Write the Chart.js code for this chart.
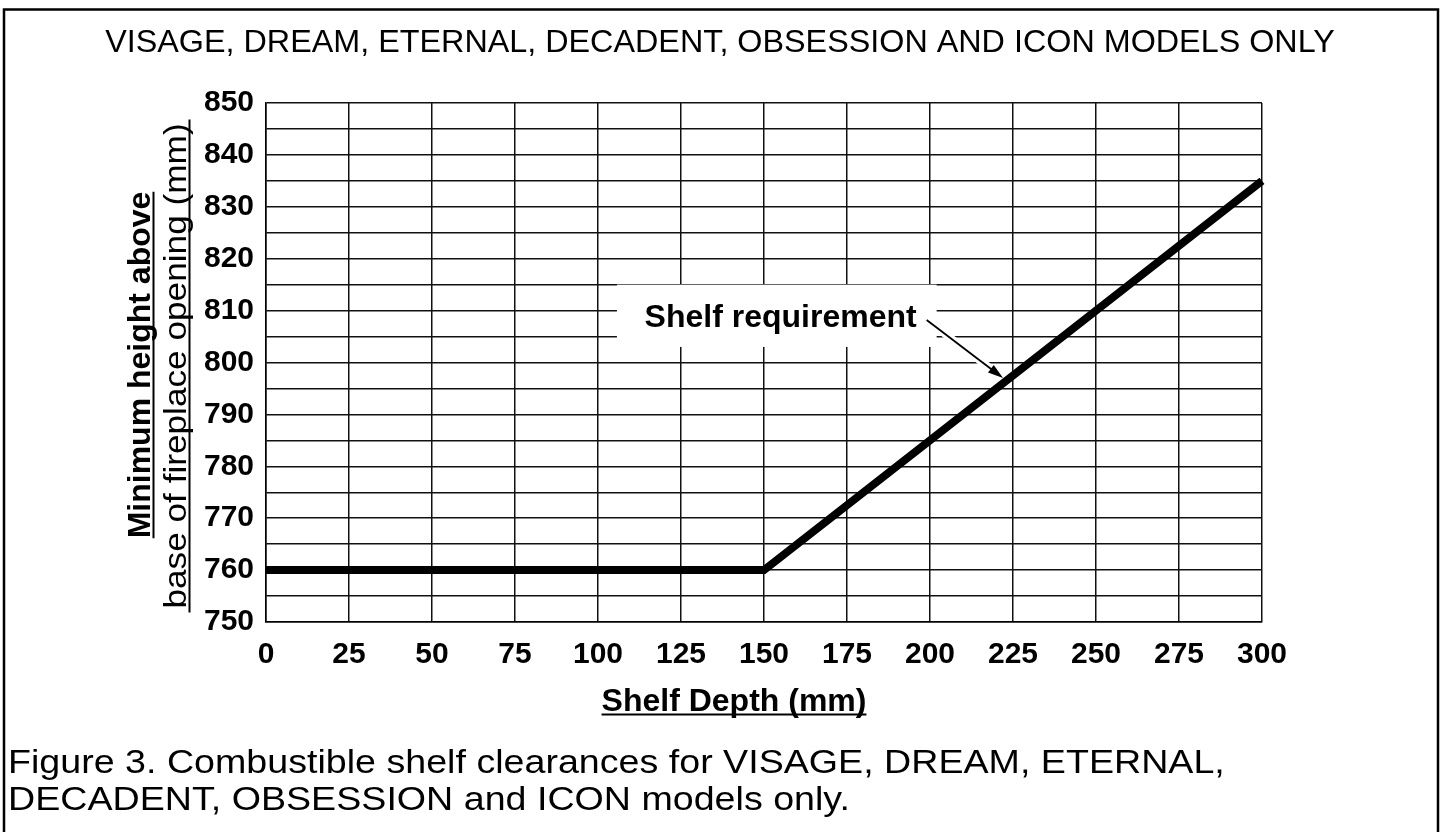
<!DOCTYPE html>
<html>
<head>
<meta charset="utf-8">
<title>Shelf clearances</title>
<script src="https://cdn.jsdelivr.net/npm/chart.js@4.4.1/dist/chart.umd.min.js"></script>
<style>
  html, body { margin: 0; padding: 0; background: #fff; }
  canvas { display: block; }
</style>
</head>
<body>
<canvas id="c" width="1447" height="832"></canvas>
<script>
const FONT = '"Liberation Sans", Arial, Helvetica, sans-serif';

// shelf depth (mm) -> minimum height above base of opening (mm)
const depth = [0, 150, 300];
const minHeight = [760, 760, 835];

const xTicks = [0, 25, 50, 75, 100, 125, 150, 175, 200, 225, 250, 275, 300];
const yTicks = [750, 760, 770, 780, 790, 800, 810, 820, 830, 840, 850];

const topTitle = "VISAGE, DREAM, ETERNAL, DECADENT, OBSESSION AND ICON MODELS ONLY";
const yTitle = ["Minimum height above", "base of fireplace opening (mm)"];
const xTitle = "Shelf Depth (mm)";
const caption = [
  "Figure 3. Combustible shelf clearances for VISAGE, DREAM, ETERNAL,",
  "DECADENT, OBSESSION and ICON models only."
];

// callout, in data units
const note = { text: "Shelf requirement", x: 155, y: 806.8, box: [105.7, 815, 202, 803], from: [199, 808.2], to: [222, 797] };

// text centred on (0,0) after the caller's transform; sx stretches along the text
function underlined(ctx, text, sx, extra) {
  const w = ctx.measureText(text).width * sx;
  ctx.save();
  ctx.scale(sx, 1);
  ctx.fillText(text, 0, 0);
  ctx.restore();
  const e = extra || 0;
  ctx.beginPath();
  ctx.moveTo(-w / 2 - e, 3.5);
  ctx.lineTo(w / 2 + e, 3.5);
  ctx.stroke();
}

const decor = {
  id: "decor",
  beforeDraw(chart) {
    const { ctx, width, height } = chart;
    ctx.save();
    ctx.fillStyle = "#fff";
    ctx.fillRect(0, 0, width, height);
    ctx.strokeStyle = "#000";
    ctx.lineWidth = 2.5;
    ctx.beginPath();
    ctx.moveTo(4, height + 5);
    ctx.lineTo(4, 9.5);
    ctx.lineTo(1438, 9.5);
    ctx.lineTo(1438, height + 5);
    ctx.stroke();
    ctx.restore();
  },
  beforeDatasetsDraw(chart) {
    const { ctx, scales: { x, y } } = chart;
    ctx.save();
    // white patch behind the label
    const bx0 = x.getPixelForValue(note.box[0]), by0 = y.getPixelForValue(note.box[1]);
    const bx1 = x.getPixelForValue(note.box[2]), by1 = y.getPixelForValue(note.box[3]);
    ctx.fillStyle = "#fff";
    ctx.fillRect(bx0, by0, bx1 - bx0, by1 - by0);
    ctx.fillStyle = "#000";
    ctx.font = "bold 32px " + FONT;
    ctx.textAlign = "center";
    ctx.textBaseline = "alphabetic";
    ctx.fillText(note.text, x.getPixelForValue(note.x), y.getPixelForValue(note.y));

    // arrow
    const x0 = x.getPixelForValue(note.from[0]), y0 = y.getPixelForValue(note.from[1]);
    const x1 = x.getPixelForValue(note.to[0]), y1 = y.getPixelForValue(note.to[1]);
    const a = Math.atan2(y1 - y0, x1 - x0);
    ctx.strokeStyle = "#fff";
    ctx.lineWidth = 8;
    ctx.beginPath(); ctx.moveTo(x0, y0); ctx.lineTo(x1, y1); ctx.stroke();
    ctx.strokeStyle = "#000";
    ctx.lineWidth = 1.8;
    ctx.beginPath(); ctx.moveTo(x0, y0); ctx.lineTo(x1 - 8 * Math.cos(a), y1 - 8 * Math.sin(a)); ctx.stroke();
    ctx.beginPath();
    ctx.moveTo(x1, y1);
    ctx.lineTo(x1 - 16 * Math.cos(a - 0.3), y1 - 16 * Math.sin(a - 0.3));
    ctx.lineTo(x1 - 16 * Math.cos(a + 0.3), y1 - 16 * Math.sin(a + 0.3));
    ctx.closePath();
    ctx.fill();
    ctx.restore();
  },
  afterDraw(chart) {
    const { ctx } = chart;
    ctx.save();
    ctx.fillStyle = "#000";
    ctx.strokeStyle = "#000";
    ctx.lineWidth = 2;
    ctx.textBaseline = "alphabetic";

    ctx.font = "32px " + FONT;
    ctx.textAlign = "center";
    ctx.save();
    ctx.translate(720, 52);
    ctx.scale(1.01, 1);
    ctx.fillText(topTitle, 0, 0);
    ctx.restore();

    ctx.font = "bold 32px " + FONT;
    ctx.save();
    ctx.translate(734, 711);
    underlined(ctx, xTitle, 1, 0);
    ctx.restore();

    ctx.save();
    ctx.translate(150, 365);
    ctx.rotate(-Math.PI / 2);
    ctx.font = "bold 32px " + FONT;
    underlined(ctx, yTitle[0], 1, 0);
    ctx.restore();

    ctx.save();
    ctx.translate(186, 366);
    ctx.rotate(-Math.PI / 2);
    ctx.font = "32px " + FONT;
    underlined(ctx, yTitle[1], 1.1, 4);
    ctx.restore();

    ctx.font = "33px " + FONT;
    ctx.textAlign = "left";
    caption.forEach((line, i) => {
      ctx.save();
      ctx.translate(8, 773 + i * 37);
      ctx.scale(1.14, 1);
      ctx.fillText(line, 0, 0);
      ctx.restore();
    });
    ctx.restore();
  }
};

new Chart(document.getElementById("c"), {
  type: "line",
  data: {
    datasets: [{
      label: "Shelf requirement",
      data: depth.map((d, i) => ({ x: d, y: minHeight[i] })),
      borderColor: "#000",
      borderWidth: 8,
      pointRadius: 0,
      tension: 0,
      clip: 6
    }]
  },
  options: {
    responsive: false,
    animation: false,
    events: [],
    layout: { padding: { left: 0, top: 103, right: 185, bottom: 0 } },
    plugins: { legend: { display: false }, tooltip: { enabled: false }, title: { display: false } },
    scales: {
      x: {
        type: "linear",
        min: 0,
        max: 300,
        afterBuildTicks: s => { s.ticks = xTicks.map(v => ({ value: v })); },
        afterFit: s => { s.height = 210; },
        grid: { color: "#111", lineWidth: 1.5, drawTicks: false },
        border: { color: "#000", width: 1.5 },
        ticks: {
          color: "#000",
          font: { family: FONT, size: 30, weight: "bold" },
          padding: 15,
          maxRotation: 0,
          autoSkip: false
        }
      },
      y: {
        type: "linear",
        min: 750,
        max: 850,
        afterFit: s => { s.width = 266; },
        grid: { color: "#111", lineWidth: 1.5, drawTicks: false },
        border: { color: "#000", width: 1.5 },
        ticks: {
          stepSize: 5,
          autoSkip: false,
          color: "#000",
          font: { family: FONT, size: 30, weight: "bold" },
          padding: 12,
          callback: v => (yTicks.includes(v) ? String(v) : "")
        }
      }
    }
  },
  plugins: [decor]
});
</script>
</body>
</html>
